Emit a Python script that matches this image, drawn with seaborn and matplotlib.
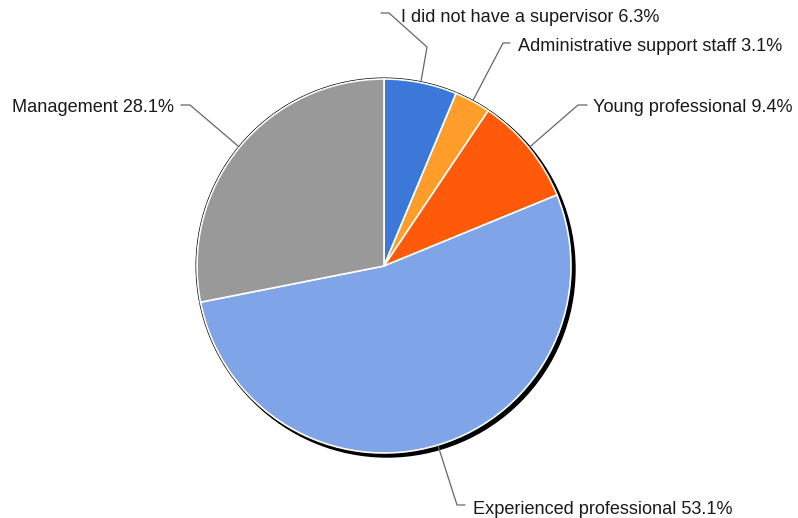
import matplotlib
matplotlib.use("Agg")
import matplotlib.pyplot as plt
from matplotlib.patches import Circle
import numpy as np
import seaborn as sns

# data
categories = ["I did not have a supervisor", "Administrative support staff",
              "Young professional", "Experienced professional", "Management"]
shares = [6.3, 3.1, 9.4, 53.1, 28.1]
colors = ["#3c78d8", "#ff9d2a", "#ff5a0a", "#7fa5e8", "#999999"]

# label layout (pixel coords, y measured from top)
W, H = 798, 518
cx, cy, R = 384, 266, 187
text_pos = [(401, 22, "left"), (518, 51, "left"), (593, 112, "left"),
            (473, 514, "left"), (174, 112, "right")]
leader_bends = [[(427, 47), (389, 13), (381, 13)],
                [(503, 43), (510, 43)],
                [(578, 105), (587, 105)],
                [(457, 505), (465, 505)],
                [(190, 105), (181, 105)]]

sns.set_theme(style="white")
plt.rcParams["font.family"] = ["Liberation Sans", "DejaVu Sans"]

fig = plt.figure(figsize=(W / 100, H / 100), dpi=100)
ax = fig.add_axes([0, 0, 1, 1])

center = (cx, H - cy)
# drop shadow + outline behind the pie
ax.add_patch(Circle((cx + 3, H - cy - 3), R + 1, color="black", zorder=0))
ax.add_patch(Circle(center, R + 0.8, fill=False, edgecolor="black", lw=1, zorder=0.5))

wedges, _ = ax.pie(shares, colors=colors, startangle=90, counterclock=False,
                   center=center, radius=R,
                   wedgeprops=dict(edgecolor="white", linewidth=1.2, zorder=1))

for w, cat, val, (tx, ty, ha), bends in zip(wedges, categories, shares, text_pos, leader_bends):
    mid = np.deg2rad((w.theta1 + w.theta2) / 2)
    ex = cx + (R + 1) * np.cos(mid)
    ey = (H - cy) + (R + 1) * np.sin(mid)
    xs = [ex] + [p[0] for p in bends]
    ys = [ey] + [H - p[1] for p in bends]
    ax.plot(xs, ys, color="#666666", lw=0.9, zorder=2)
    ax.text(tx, H - ty, f"{cat} {val:.1f}%", ha=ha, va="baseline",
            fontsize=13.1, color="#1a1a1a")

ax.set_xlim(0, W)
ax.set_ylim(0, H)
ax.axis("off")

fig.savefig("out.png", dpi=100, facecolor="white")
